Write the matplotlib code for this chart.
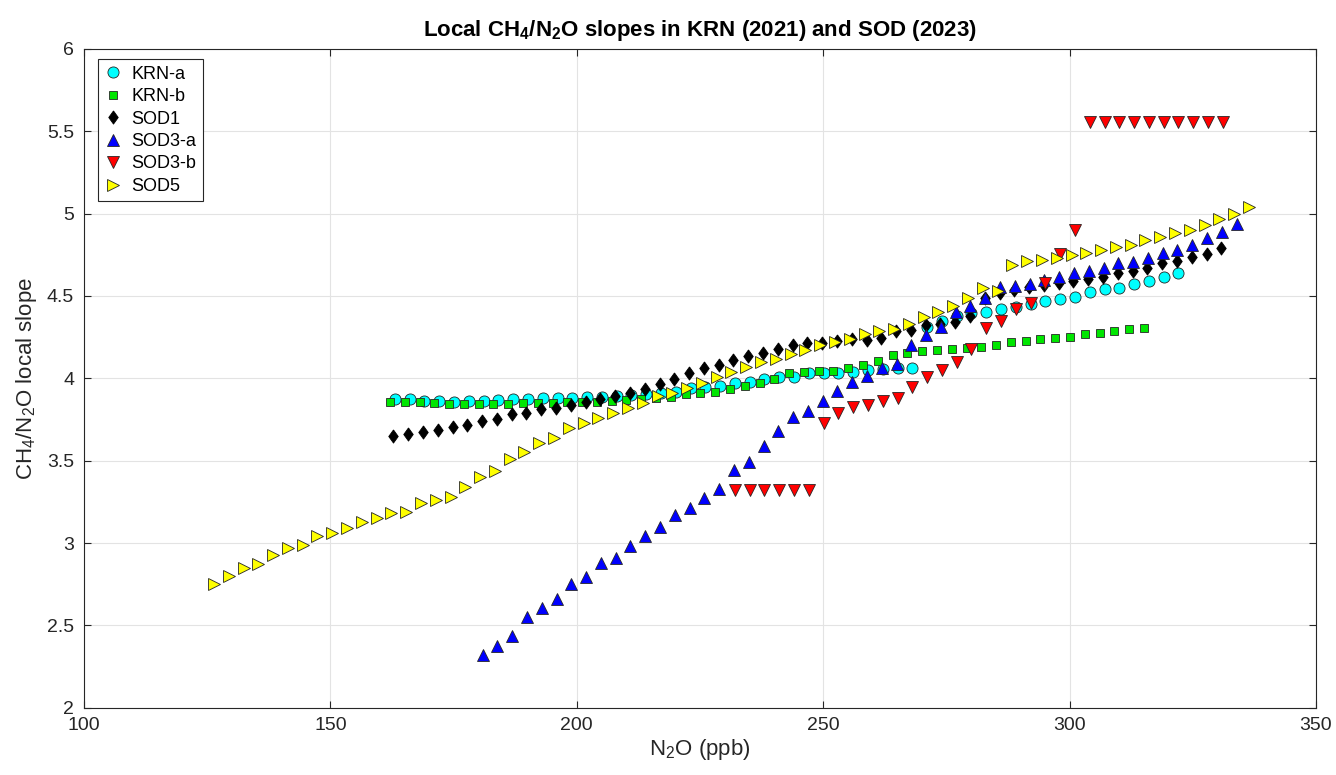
import matplotlib
matplotlib.use("Agg")
import matplotlib.pyplot as plt

plt.rcParams['font.family'] = ['Liberation Sans', 'DejaVu Sans']
plt.rcParams['mathtext.default'] = 'regular'

# N2O (ppb) and local CH4/N2O slope for each site
krn_a_x = [163.1, 166.1, 169.1, 172.1, 175.1, 178.1, 181.1, 184.1, 187.1, 190.1,
           193.1, 196.1, 199.1, 202.1, 205.1, 208.1, 211.1, 214.1, 217.1, 220.1,
           223.1, 226.1, 229.1, 232.1, 235.1, 238.1, 241.1, 244.1, 247.1, 250.1,
           253.1, 256.1, 259.1, 262.1, 265.1, 268.1, 271.1, 274.1, 277.1, 280.1,
           283.1, 286.1, 289.1, 292.1, 295.1, 298.1, 301.1, 304.1, 307.1, 310.1,
           313.1, 316.1, 319.1, 322.1]
krn_a_y = [3.872, 3.872, 3.864, 3.860, 3.858, 3.860, 3.864, 3.868, 3.872, 3.874,
           3.879, 3.879, 3.882, 3.885, 3.888, 3.893, 3.899, 3.903, 3.913, 3.917,
           3.939, 3.945, 3.953, 3.970, 3.979, 3.995, 4.006, 4.010, 4.030, 4.030,
           4.034, 4.040, 4.050, 4.055, 4.065, 4.061, 4.310, 4.350, 4.378, 4.395,
           4.404, 4.421, 4.435, 4.449, 4.471, 4.483, 4.495, 4.524, 4.540, 4.548,
           4.573, 4.593, 4.617, 4.641]

krn_b_x = [162.1, 165.1, 168.1, 171.1, 174.1, 177.1, 180.1, 183.1, 186.1, 189.1,
           192.1, 195.1, 198.1, 201.1, 204.1, 207.1, 210.1, 213.1, 216.1, 219.1,
           222.1, 225.1, 228.1, 231.1, 234.1, 237.1, 240.1, 243.1, 246.1, 249.1,
           252.1, 255.1, 258.1, 261.1, 264.1, 267.1, 270.1, 273.1, 276.1, 279.1,
           282.1, 285.1, 288.1, 291.1, 294.1, 297.1, 300.1, 303.1, 306.1, 309.1,
           312.1, 315.1]
krn_b_y = [3.858, 3.858, 3.854, 3.848, 3.844, 3.842, 3.842, 3.842, 3.844, 3.848,
           3.852, 3.852, 3.854, 3.858, 3.858, 3.864, 3.868, 3.874, 3.880, 3.885,
           3.903, 3.909, 3.919, 3.933, 3.955, 3.970, 3.994, 4.034, 4.040, 4.046,
           4.046, 4.061, 4.078, 4.105, 4.142, 4.152, 4.166, 4.172, 4.178, 4.182,
           4.192, 4.202, 4.219, 4.229, 4.241, 4.247, 4.253, 4.267, 4.277, 4.287,
           4.298, 4.307]

sod1_x = [162.8, 165.8, 168.8, 171.8, 174.8, 177.8, 180.8, 183.8, 186.8, 189.8,
          192.8, 195.8, 198.8, 201.8, 204.8, 207.8, 210.8, 213.8, 216.8, 219.8,
          222.8, 225.8, 228.8, 231.8, 234.8, 237.8, 240.8, 243.8, 246.8, 249.8,
          252.8, 255.8, 258.8, 261.8, 264.8, 267.8, 270.8, 273.8, 276.8, 279.8,
          282.8, 285.8, 288.8, 291.8, 294.8, 297.8, 300.8, 303.8, 306.8, 309.8,
          312.8, 315.8, 318.8, 321.8, 324.8, 327.8, 330.8]
sod1_y = [3.650, 3.662, 3.676, 3.686, 3.706, 3.716, 3.743, 3.753, 3.783, 3.791,
          3.812, 3.821, 3.838, 3.858, 3.874, 3.893, 3.913, 3.933, 3.965, 3.994,
          4.030, 4.064, 4.081, 4.111, 4.135, 4.152, 4.180, 4.202, 4.212, 4.216,
          4.226, 4.237, 4.235, 4.243, 4.290, 4.293, 4.324, 4.330, 4.340, 4.380,
          4.490, 4.520, 4.536, 4.556, 4.566, 4.577, 4.591, 4.603, 4.617, 4.637,
          4.654, 4.668, 4.698, 4.714, 4.738, 4.755, 4.789]

sod3a_x = [180.9, 183.9, 186.9, 189.9, 192.9, 195.9, 198.9, 201.9, 204.9, 207.9,
           210.9, 213.9, 216.9, 219.9, 222.9, 225.9, 228.9, 231.9, 234.9, 237.9,
           240.9, 243.9, 246.9, 249.9, 252.9, 255.9, 258.9, 261.9, 264.9, 267.9,
           270.9, 273.9, 276.9, 279.9, 282.9, 285.9, 288.9, 291.9, 294.9, 297.9,
           300.9, 303.9, 306.9, 309.9, 312.9, 315.9, 318.9, 321.9, 324.9, 327.9,
           330.9, 333.9]
sod3a_y = [2.321, 2.377, 2.436, 2.550, 2.604, 2.661, 2.752, 2.796, 2.877, 2.911,
           2.982, 3.043, 3.098, 3.171, 3.215, 3.272, 3.328, 3.444, 3.490, 3.589,
           3.682, 3.763, 3.802, 3.862, 3.925, 3.980, 4.015, 4.064, 4.085, 4.200,
           4.260, 4.313, 4.400, 4.437, 4.490, 4.555, 4.561, 4.573, 4.597, 4.613,
           4.641, 4.653, 4.672, 4.698, 4.708, 4.728, 4.759, 4.779, 4.809, 4.850,
           4.890, 4.937]

sod3b_x = [232.1, 235.1, 238.1, 241.1, 244.1, 247.1, 250.1, 253.1, 256.1, 259.1,
           262.1, 265.1, 268.1, 271.1, 274.1, 277.1, 280.1, 283.1, 286.1, 289.1,
           292.1, 295.1, 298.1, 301.1, 304.1, 307.1, 310.1, 313.1, 316.1, 319.1,
           322.1, 325.1, 328.1, 331.1]
sod3b_y = [3.322, 3.322, 3.322, 3.322, 3.322, 3.322, 3.730, 3.791, 3.824, 3.838,
           3.864, 3.879, 3.945, 4.005, 4.050, 4.101, 4.175, 4.304, 4.348, 4.423,
           4.459, 4.577, 4.755, 4.900, 5.558, 5.558, 5.558, 5.558, 5.558, 5.558,
           5.558, 5.558, 5.558, 5.558]

sod5_x = [126.4, 129.4, 132.4, 135.4, 138.4, 141.4, 144.4, 147.4, 150.4, 153.4,
          156.4, 159.4, 162.4, 165.4, 168.4, 171.4, 174.4, 177.4, 180.4, 183.4,
          186.4, 189.4, 192.4, 195.4, 198.4, 201.4, 204.4, 207.4, 210.4, 213.4,
          216.4, 219.4, 222.4, 225.4, 228.4, 231.4, 234.4, 237.4, 240.4, 243.4,
          246.4, 249.4, 252.4, 255.4, 258.4, 261.4, 264.4, 267.4, 270.4, 273.4,
          276.4, 279.4, 282.4, 285.4, 288.4, 291.4, 294.4, 297.4, 300.4, 303.4,
          306.4, 309.4, 312.4, 315.4, 318.4, 321.4, 324.4, 327.4, 330.4, 333.4,
          336.4]
sod5_y = [2.75, 2.80, 2.85, 2.87, 2.93, 2.97, 2.99, 3.04, 3.06, 3.09,
          3.13, 3.15, 3.18, 3.19, 3.24, 3.26, 3.28, 3.34, 3.40, 3.44,
          3.51, 3.55, 3.61, 3.64, 3.70, 3.73, 3.76, 3.79, 3.82, 3.85,
          3.89, 3.91, 3.94, 3.97, 4.01, 4.04, 4.07, 4.10, 4.12, 4.15,
          4.17, 4.20, 4.22, 4.24, 4.27, 4.29, 4.30, 4.33, 4.37, 4.40,
          4.44, 4.49, 4.55, 4.53, 4.69, 4.71, 4.72, 4.73, 4.75, 4.76,
          4.78, 4.80, 4.81, 4.84, 4.86, 4.88, 4.90, 4.93, 4.97, 5.00,
          5.04]

fig = plt.figure(figsize=(13.36, 7.75), dpi=100)
ax = fig.add_axes([0.0628, 0.0868, 0.9222, 0.8501])

edge = '#262626'
# matlab-like diamond (a bit narrower than tall)
diamond = [(0, 1), (0.72, 0), (0, -1), (-0.72, 0), (0, 1)]

ax.plot(krn_a_x, krn_a_y, 'o', ms=8, mfc='#00FFFF', mec=edge, mew=0.6, label='KRN-a')
ax.plot(krn_b_x, krn_b_y, 's', ms=5.8, mfc='#00E600', mec=edge, mew=0.6, label='KRN-b')
ax.plot(sod1_x, sod1_y, marker=diamond, ls='none', ms=9.5, mfc='black', mec='black',
        mew=0.6, label='SOD1')
ax.plot(sod3a_x, sod3a_y, '^', ms=8, mfc='#0000FF', mec=edge, mew=0.6, label='SOD3-a')
ax.plot(sod3b_x, sod3b_y, 'v', ms=8, mfc='#FF0000', mec=edge, mew=0.6, label='SOD3-b')
ax.plot(sod5_x, sod5_y, '>', ms=8, mfc='#FFFF00', mec=edge, mew=0.6, label='SOD5')

ax.set_xlim(100, 350)
ax.set_ylim(2, 6)
ax.set_xticks([100, 150, 200, 250, 300, 350])
ax.set_yticks([2, 2.5, 3, 3.5, 4, 4.5, 5, 5.5, 6])
ax.set_yticklabels(['2', '2.5', '3', '3.5', '4', '4.5', '5', '5.5', '6'])
ax.grid(True, color='#e3e3e3', linewidth=0.8)
ax.set_axisbelow(True)
ax.tick_params(direction='in', length=5, width=0.8, colors='#262626',
               labelsize=14, top=True, right=True, pad=7)
for s in ax.spines.values():
    s.set_color('#262626')
    s.set_linewidth(0.8)

ax.set_xlabel('N$_2$O (ppb)', fontsize=16, color='#262626', labelpad=2)
ax.set_ylabel('CH$_4$/N$_2$O local slope', fontsize=16, color='#262626', labelpad=6)
ax.set_title('Local CH$_4$/N$_2$O slopes in KRN (2021) and SOD (2023)',
             fontsize=16, fontweight='bold', pad=9)

leg = ax.legend(loc='upper left', bbox_to_anchor=(0.0115, 0.984), borderaxespad=0,
                fontsize=13, frameon=True, fancybox=False, framealpha=1,
                edgecolor='#262626', handlelength=1.0, handletextpad=0.5,
                labelspacing=0.3, borderpad=0.35)
leg.get_frame().set_linewidth(0.8)

fig.savefig('out.png', dpi=100)
